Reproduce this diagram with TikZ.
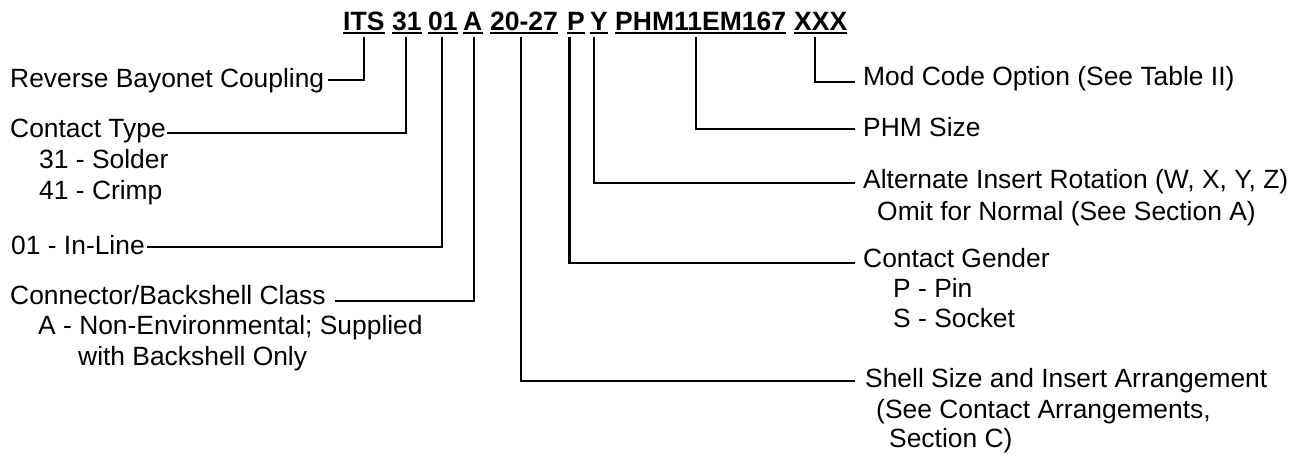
\documentclass[tikz,border=0pt]{standalone}
\usepackage{fontspec}
\setmainfont{Liberation Sans}
\usetikzlibrary{calc}
\begin{document}
\begin{tikzpicture}[x=1pt,y=-1pt,
  lbl/.style={anchor=base west,inner sep=0pt,font=\fontsize{26.4}{30}\selectfont},
  ttl/.style={anchor=base west,inner sep=0pt,font=\fontsize{26.5}{30}\selectfont\bfseries},
  conn/.style={line width=2.2pt},
  uline/.style={line width=2pt}]
\useasboundingbox (0,0) rectangle (1306,457);

% title segments
\node[ttl] (its) at (343,31) {ITS};
\node[ttl] (n31) at (392,31) {31};
\node[ttl] (n01) at (428,31) {01};
\node[ttl] (cls) at (463,31) {A};
\node[ttl] (shl) at (490,31) {20-27};
\node[ttl] (gen) at (567,31) {P};
\node[ttl] (rot) at (590,31) {Y};
\node[ttl] (phm) at (615,31) {PHM11EM167};
\node[ttl] (mod) at (794,31) {XXX};
\foreach \n in {its,n31,n01,cls,shl,gen,rot,phm,mod}
  \draw[uline] ([yshift=-2.3pt]\n.base west) -- ([yshift=-2.3pt]\n.base east);

% connector start points under the title
\coordinate (itsS) at ([xshift=21pt,yshift=-6pt]its.base west);
\coordinate (n31S) at ([xshift=14pt,yshift=-6pt]n31.base west);
\coordinate (n01S) at ([xshift=14pt,yshift=-6pt]n01.base west);
\coordinate (clsS) at ([xshift=11pt,yshift=-6pt]cls.base west);
\coordinate (shlS) at ([xshift=31pt,yshift=-6pt]shl.base west);
\coordinate (genS) at ([xshift=2.5pt,yshift=-6pt]gen.base west);
\coordinate (rotS) at ([xshift=4pt,yshift=-6pt]rot.base west);
\coordinate (phmS) at ([xshift=81pt,yshift=-6pt]phm.base west);
\coordinate (modS) at ([xshift=21pt,yshift=-6pt]mod.base west);

% left labels
\node[lbl] (rbc) at (10,88) {Reverse Bayonet Coupling};
\node[lbl] (ct) at (10,138) {Contact Type};
\node[lbl] (ct1) at (39,168.5) {31 - Solder};
\node[lbl] (ct2) at (39,200) {41 - Crimp};
\node[lbl] (il) at (11,254) {01 - In-Line};
\node[lbl] (cb) at (10,304) {Connector/Backshell Class};
\node[lbl] (cb1) at (38,334) {A - Non-Environmental; Supplied};
\node[lbl] (cb2) at (78,365) {with Backshell Only};

% right labels
\node[lbl] (mc) at (863,86) {Mod Code Option (See Table II)};
\node[lbl] (ps) at (863,137) {PHM Size};
\node[lbl] (ar) at (863,189) {Alternate Insert Rotation (W, X, Y, Z)};
\node[lbl] (ar1) at (877,220) {Omit for Normal (See Section A)};
\node[lbl] (cg) at (863,267) {Contact Gender};
\node[lbl] (cg1) at (893,297) {P - Pin};
\node[lbl] (cg2) at (893,327) {S - Socket};
\node[lbl] (ss) at (865,387) {Shell Size and Insert Arrangement};
\node[lbl] (ss1) at (876,418) {(See Contact Arrangements,};
\node[lbl] (ss2) at (889,447) {Section C)};

% connector end points at the labels
\coordinate (rbcE) at ([xshift=4pt,yshift=8pt]rbc.base east);
\coordinate (ctE) at ([xshift=1.5pt,yshift=5pt]ct.base east);
\coordinate (ilE) at ([xshift=2.5pt,yshift=7pt]il.base east);
\coordinate (cbE) at ([xshift=9pt,yshift=3pt]cb.base east);
\coordinate (mcW) at ([xshift=-8pt,yshift=4pt]mc.base west);
\coordinate (psW) at ([xshift=-8pt,yshift=8pt]ps.base west);
\coordinate (arW) at ([xshift=-8pt,yshift=6pt]ar.base west);
\coordinate (cgW) at ([xshift=-8pt,yshift=4pt]cg.base west);
\coordinate (ssW) at ([xshift=-10pt,yshift=6pt]ss.base west);

% connectors
\draw[conn] (itsS) |- (rbcE);
\draw[conn] (n31S) |- (ctE);
\draw[conn] (n01S) |- (ilE);
\draw[conn] (clsS) |- (cbE);
\draw[conn] (shlS) |- (ssW);
\draw[conn] (genS) |- (cgW);
\draw[conn] (rotS) |- (arW);
\draw[conn] (phmS) |- (psW);
\draw[conn] (modS) |- (mcW);
\end{tikzpicture}
\end{document}
